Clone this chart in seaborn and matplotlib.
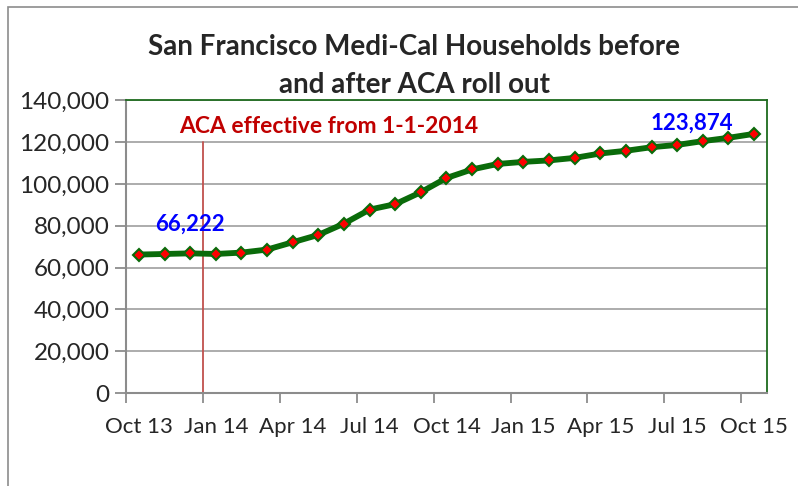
import numpy as np
import pandas as pd
import matplotlib
matplotlib.use("Agg")
import matplotlib.pyplot as plt
import seaborn as sns
from matplotlib.patches import Rectangle
from matplotlib.ticker import FuncFormatter

# monthly Medi-Cal households, Oct 2013 .. Oct 2015
months = ["Oct 13", "Nov 13", "Dec 13", "Jan 14", "Feb 14", "Mar 14", "Apr 14",
          "May 14", "Jun 14", "Jul 14", "Aug 14", "Sep 14", "Oct 14", "Nov 14",
          "Dec 14", "Jan 15", "Feb 15", "Mar 15", "Apr 15", "May 15", "Jun 15",
          "Jul 15", "Aug 15", "Sep 15", "Oct 15"]
households = [66222, 66500, 66800, 66500, 67150, 68600, 72100, 75600, 81000,
              87700, 90300, 96000, 102800, 106900, 109500, 110500, 111200,
              112400, 114500, 115800, 117500, 118600, 120400, 122000, 123874]
tick_labels = ["Oct 13", "Jan 14", "Apr 14", "Jul 14", "Oct 14", "Jan 15",
               "Apr 15", "Jul 15", "Oct 15"]
aca_month = "Jan 14"

df = pd.DataFrame({"month": months, "households": households})
df["pos"] = np.arange(len(df))

sns.set_style("white")
plt.rcParams["font.family"] = ["Lato", "DejaVu Sans"]

fig = plt.figure(figsize=(7.98, 4.86), dpi=100)
ax = fig.add_axes([0.158, 0.191, 0.803, 0.603])

# outer chart frame (cropped on right/bottom)
fig.patches.append(Rectangle((8 / 798, -0.1), 1.2, 1 - 7 / 486 + 0.1,
                             transform=fig.transFigure, fill=False,
                             edgecolor="#8c8c8c", linewidth=1.2))

sns.lineplot(data=df, x="pos", y="households", ax=ax, color="#0a6b0a",
             linewidth=4.2, marker="D", markersize=6.5,
             markerfacecolor="#ff0000", markeredgecolor="#0a6b0a",
             markeredgewidth=1.5, zorder=3)

ax.set_xlim(-0.5, len(months) - 0.5)
ax.set_ylim(0, 140000)
ax.set_yticks(np.arange(0, 140001, 20000))
ax.yaxis.set_major_formatter(FuncFormatter(lambda v, p: f"{int(v):,}"))
ax.grid(axis="y", color="#a6a6a6", linewidth=1.3)
ax.set_axisbelow(True)

label_pos = [months.index(m) for m in tick_labels]
ax.set_xticks(label_pos)
ax.set_xticklabels(tick_labels)
ax.set_xticks(np.arange(-0.5, len(months), 3), minor=True)
ax.tick_params(axis="x", which="major", length=0, pad=17, labelsize=16)
ax.tick_params(axis="x", which="minor", length=7, width=1.3, color="#8c8c8c",
               direction="out", bottom=True)
ax.tick_params(axis="y", length=8, width=1.3, color="#8c8c8c",
               direction="out", left=True, labelsize=17.5, pad=4)
ax.set_xlabel("")
ax.set_ylabel("")

for side in ["left", "bottom"]:
    ax.spines[side].set_color("#8c8c8c")
    ax.spines[side].set_linewidth(1.5)
for side in ["top", "right"]:
    ax.spines[side].set_color("#1e6b1e")
    ax.spines[side].set_linewidth(1.3)

# ACA start marker
aca_x = months.index(aca_month) - 0.5
ax.plot([aca_x, aca_x], [0, 120000], color="#c0504d", linewidth=1.3, zorder=2)
ax.text(aca_x - 0.95, 127500, "ACA effective from 1-1-2014", color="#c00000",
        fontsize=16.5, fontweight="bold", va="center", ha="left")

ax.text(0.65, 80800, f"{households[0]:,}", color="#0000ff", fontsize=16,
        fontweight="bold", va="center", ha="left")
ax.text(len(months) - 1.8, 128800, f"{households[-1]:,}", color="#0000ff",
        fontsize=16, fontweight="bold", va="center", ha="right")

fig.text(0.519, 0.903, "San Francisco Medi-Cal Households before",
         ha="center", va="center", fontsize=20, fontweight="bold")
fig.text(0.519, 0.826, "and after ACA roll out",
         ha="center", va="center", fontsize=20, fontweight="bold")

fig.savefig("out.png", dpi=100)
